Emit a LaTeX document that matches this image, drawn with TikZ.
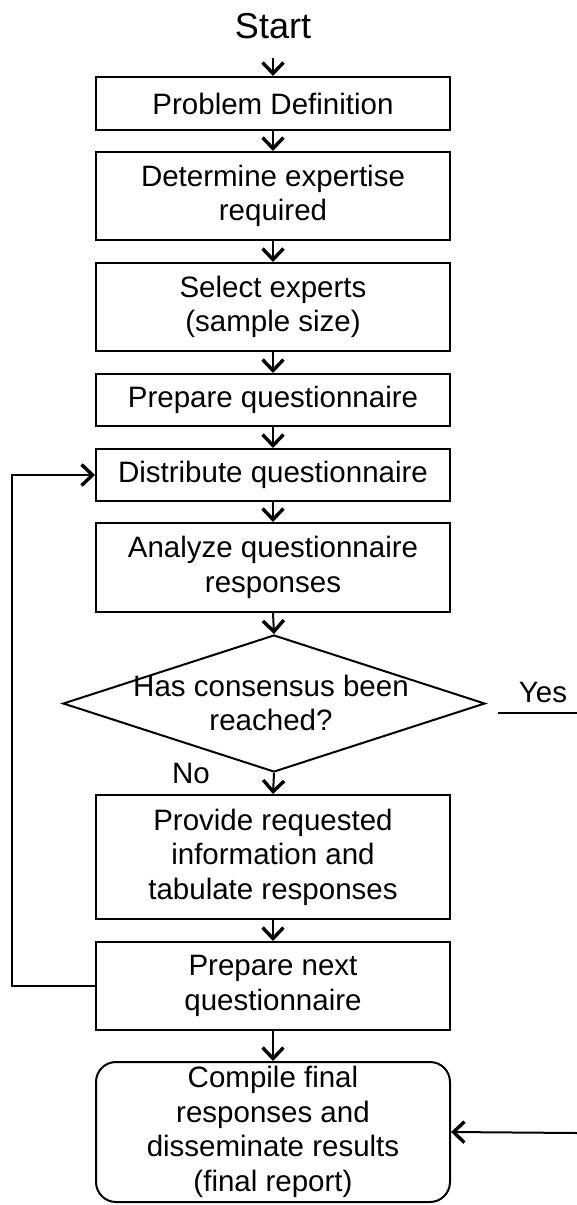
\documentclass[tikz,border=0pt]{standalone}
\usepackage{fontspec}
\setmainfont{Liberation Sans}
\usetikzlibrary{arrows.meta,shapes.geometric}
\begin{document}
\begin{tikzpicture}[x=1pt,y=-1pt,
  every node/.style={font=\fontsize{29.5}{34.5}\selectfont},
  box/.style={draw,line width=2pt,minimum width=354pt,align=center,inner sep=0pt},
  rbox/.style={box,rounded corners=20pt},
  lbl/.style={inner sep=0pt},
  arr/.style={line width=2pt,-{Straight Barb[length=11pt,width=21pt,line width=3.4pt]}},
  ln/.style={line width=2pt}]
\useasboundingbox (0,0) rectangle (577,1205);
\node[lbl,anchor=base,font=\fontsize{36}{40}\selectfont] (start) at (273,38) {Start};
\coordinate (s0) at (273,58);
\node[box,minimum height=53pt] (prob) at (273,103.5) {Problem Definition};
\node[box,minimum height=88pt] (det) at (273,196) {Determine expertise\\required};
\node[box,minimum height=88pt] (sel) at (273,307) {Select experts\\(sample size)};
\node[box,minimum height=52pt] (prep) at (273,400) {Prepare questionnaire};
\node[box,minimum height=52pt] (dist) at (273,475) {Distribute questionnaire};
\node[box,minimum height=89pt] (ana) at (273,567.5) {Analyze questionnaire\\responses};
\node[diamond,draw,line width=2pt,minimum width=422pt,minimum height=137pt,inner sep=0pt] (dec) at (274,703.5) {};
\node[lbl,align=center] (dect) at (271,703) {Has consensus been\\reached?};
\node[lbl] (no) at (191,773) {No};
\node[lbl,anchor=base] (yes) at (543,702) {Yes};
\coordinate (y1) at (498,713);
\coordinate (y2) at (577,713);
\node[box,minimum height=124pt] (prov) at (273,857) {Provide requested\\information and\\tabulate responses};
\node[box,minimum height=88pt] (next) at (273,986) {Prepare next\\questionnaire};
\node[rbox,minimum height=140pt] (comp) at (273,1132) {Compile final\\responses and\\disseminate results\\(final report)};
\coordinate (l1) at (12,986);
\coordinate (l2) at (12,475);
\coordinate (r1) at (577,1133);
\draw[arr] (s0) -- (prob.north);
\draw[arr] (prob.south) -- (det.north);
\draw[arr] (det.south) -- (sel.north);
\draw[arr] (sel.south) -- (prep.north);
\draw[arr] (prep.south) -- (dist.north);
\draw[arr] (dist.south) -- (ana.north);
\draw[arr] (ana.south) -- (dec.north);
\draw[arr] (dec.south) -- (prov.north);
\draw[arr] (prov.south) -- (next.north);
\draw[arr] (next.south) -- (comp.north);
\draw[arr] (next.west) -- (l1) -- (l2) -- (dist.west);
\draw[ln] (y1) -- (y2);
\draw[arr] (r1) -- (comp.east);
\end{tikzpicture}
\end{document}
